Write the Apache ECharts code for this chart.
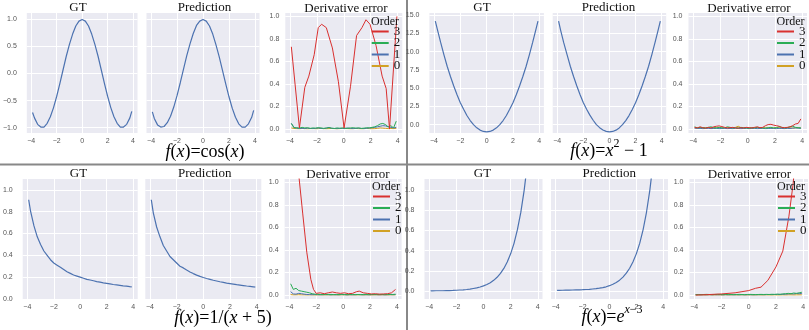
<!DOCTYPE html>
<html><head><meta charset="utf-8">
<script src="https://cdn.jsdelivr.net/npm/echarts@6/dist/echarts.min.js"></script>
<style>html,body{margin:0;padding:0;background:#fff}#c{width:809px;height:330px}</style>
</head><body><div id="c"></div><script>
// ---------- data ----------
const xTicks = [-4, -2, 0, 2, 4];
const cosTicks = [-1, -0.5, 0, 0.5, 1];
const sqTicks = [0, 2.5, 5, 7.5, 10, 12.5, 15];
const unitTicks = [0, 0.2, 0.4, 0.6, 0.8, 1.0];
const orders = ['3', '2', '1', '0'];
const subTitles = ['GT', 'Prediction', 'Derivative error'];

const xG = [-3.9,-3.75,-3.5,-3.25,-3,-2.75,-2.5,-2.25,-2,-1.75,-1.5,-1.25,-1,-0.75,-0.5,-0.25,0,0.25,0.5,0.75,1,1.25,1.5,1.75,2,2.25,2.5,2.75,3,3.25,3.5,3.75,3.9];
const xE = [-3.9,-3.7,-3.5,-3.3,-3.1,-2.9,-2.7,-2.5,-2.3,-2.1,-1.9,-1.7,-1.5,-1.3,-1.1,-0.9,-0.7,-0.5,-0.3,-0.1,0.1,0.3,0.5,0.7,0.9,1.1,1.3,1.5,1.7,1.9,2.1,2.3,2.5,2.7,2.9,3.1,3.3,3.5,3.7,3.9];

// cos(x)
const cosGT = [-0.72,-0.82,-0.94,-0.99,-0.99,-0.92,-0.80,-0.63,-0.42,-0.18,0.07,0.32,0.54,0.73,0.88,0.97,1.00,0.97,0.88,0.73,0.54,0.32,0.07,-0.18,-0.42,-0.63,-0.80,-0.92,-0.99,-0.99,-0.94,-0.82,-0.70];
const cosPred = [-0.71,-0.83,-0.95,-0.99,-0.98,-0.91,-0.79,-0.62,-0.41,-0.17,0.08,0.33,0.55,0.74,0.89,0.97,1.00,0.97,0.88,0.73,0.53,0.31,0.06,-0.19,-0.43,-0.64,-0.81,-0.93,-0.99,-0.99,-0.93,-0.81,-0.68];
const cosErr3X = [-3.9,-3.8,-3.3,-2.9,-2.6,-2.2,-1.9,-1.65,-1.3,-0.85,-0.4,0.02,0.5,0.95,1.35,1.65,1.95,2.4,2.85,3.15,3.4,3.95];
const cosErr3 = [0.73,0.72,0.01,0.37,0.47,0.66,0.90,0.93,0.90,0.72,0.42,0.01,0.38,0.83,0.90,0.97,0.93,0.74,0.47,0.36,0.0,1.0];
const cosErr2 = [0.05,0.010,0.012,0.008,0.015,0.010,0.012,0.006,0.010,0.008,0.012,0.010,0.006,0.009,0.012,0.008,0.005,0.010,0.007,0.010,0.008,0.006,0.010,0.012,0.008,0.010,0.006,0.008,0.012,0.010,0.015,0.020,0.030,0.045,0.050,0.040,0.020,0.030,0.010,0.070];
const cosErr1 = [0.050,0.015,0.008,0.005,0.006,0.004,0.008,0.005,0.004,0.006,0.010,0.005,0.004,0.008,0.015,0.006,0.005,0.004,0.006,0.005,0.004,0.010,0.005,0.004,0.006,0.008,0.005,0.004,0.006,0.010,0.012,0.015,0.020,0.025,0.030,0.028,0.020,0.015,0.010,0.015];
const cosErr0 = [0.010,0.005,0.004,0.003,0.005,0.004,0.003,0.004,0.005,0.003,0.004,0.006,0.004,0.003,0.004,0.005,0.004,0.003,0.004,0.006,0.005,0.004,0.003,0.004,0.005,0.004,0.003,0.004,0.005,0.004,0.003,0.004,0.006,0.010,0.008,0.006,0.004,0.005,0.004,0.006];

// x^2 - 1
const sqGT = [14.2,13.1,11.3,9.6,8.0,6.6,5.3,4.1,3.0,2.1,1.25,0.56,0.0,-0.44,-0.75,-0.94,-1.0,-0.94,-0.75,-0.44,0.0,0.56,1.25,2.1,3.0,4.1,5.3,6.6,8.0,9.6,11.3,13.1,14.2];
const sqPred = [14.2,13.0,11.2,9.6,8.0,6.6,5.3,4.1,3.0,2.1,1.3,0.6,0.0,-0.42,-0.74,-0.93,-0.99,-0.94,-0.76,-0.45,0.0,0.55,1.24,2.08,3.0,4.1,5.3,6.6,8.0,9.6,11.3,13.1,14.2];
const sqErr3 = [0.015,0.010,0.020,0.012,0.008,0.015,0.010,0.020,0.025,0.028,0.022,0.015,0.010,0.012,0.015,0.010,0.008,0.012,0.010,0.015,0.012,0.010,0.015,0.020,0.012,0.015,0.030,0.040,0.042,0.035,0.030,0.025,0.015,0.012,0.015,0.020,0.030,0.045,0.050,0.090];
const sqErr2 = [0.020,0.010,0.015,0.012,0.010,0.015,0.020,0.012,0.010,0.015,0.012,0.010,0.020,0.015,0.010,0.012,0.010,0.015,0.012,0.010,0.008,0.012,0.010,0.015,0.012,0.010,0.008,0.012,0.015,0.010,0.012,0.020,0.015,0.010,0.012,0.020,0.025,0.015,0.012,0.010];
const sqErr1 = [0.008,0.005,0.006,0.004,0.005,0.006,0.004,0.005,0.006,0.004,0.005,0.006,0.004,0.005,0.004,0.006,0.005,0.004,0.005,0.006,0.004,0.005,0.006,0.004,0.005,0.006,0.004,0.005,0.006,0.005,0.004,0.006,0.005,0.004,0.006,0.005,0.008,0.010,0.008,0.006];
const sqErr0 = [0.010,0.012,0.008,0.010,0.012,0.010,0.008,0.010,0.012,0.010,0.008,0.010,0.012,0.010,0.008,0.015,0.025,0.012,0.010,0.012,0.008,0.010,0.012,0.010,0.008,0.010,0.012,0.010,0.008,0.010,0.012,0.010,0.008,0.010,0.012,0.010,0.008,0.010,0.012,0.010];

// 1/(x+5)
const recGT = [0.91,0.80,0.67,0.57,0.50,0.44,0.40,0.36,0.33,0.31,0.29,0.27,0.25,0.235,0.22,0.21,0.20,0.19,0.18,0.174,0.167,0.16,0.154,0.148,0.143,0.138,0.133,0.129,0.125,0.121,0.118,0.114,0.112];
const recPred = [0.91,0.79,0.66,0.57,0.49,0.44,0.39,0.36,0.33,0.30,0.285,0.265,0.248,0.233,0.219,0.207,0.197,0.188,0.18,0.172,0.165,0.158,0.152,0.146,0.141,0.136,0.131,0.127,0.123,0.119,0.116,0.112,0.109];
const recErr3X = [-3.9,-3.6,-3.3,-3.0,-2.7,-2.4,-2.2,-2.0,-1.7,-1.4,-1.1,-0.8,-0.5,-0.2,0.1,0.4,0.7,1.0,1.2,1.5,1.8,2.1,2.4,2.7,3.0,3.3,3.6,3.9];
const recErr3 = [2.2,1.6,1.07,0.72,0.38,0.14,0.05,0.015,0.02,0.012,0.02,0.027,0.02,0.015,0.02,0.012,0.015,0.03,0.035,0.02,0.015,0.01,0.012,0.008,0.01,0.012,0.02,0.05];
const recErr2 = [0.100,0.050,0.060,0.040,0.035,0.030,0.025,0.020,0.012,0.008,0.006,0.005,0.006,0.004,0.005,0.006,0.004,0.005,0.004,0.006,0.005,0.004,0.005,0.006,0.004,0.005,0.004,0.005,0.006,0.004,0.005,0.004,0.005,0.006,0.005,0.004,0.005,0.006,0.005,0.008];
const recErr1 = [0.030,0.010,0.008,0.015,0.012,0.008,0.005,0.004,0.003,0.004,0.003,0.002,0.003,0.004,0.003,0.002,0.003,0.002,0.003,0.004,0.003,0.002,0.003,0.002,0.003,0.004,0.003,0.002,0.003,0.002,0.003,0.004,0.003,0.002,0.003,0.002,0.003,0.004,0.003,0.004];
const recErr0 = [0.004,0.002,0.002,0.003,0.002,0.002,0.001,0.002,0.002,0.001,0.002,0.002,0.001,0.002,0.002,0.001,0.002,0.002,0.001,0.002,0.002,0.001,0.002,0.002,0.001,0.002,0.002,0.001,0.002,0.002,0.001,0.002,0.002,0.001,0.002,0.002,0.001,0.002,0.002,0.002];

// e^(x-3)
const expGT = [0.001,0.001,0.002,0.002,0.002,0.003,0.004,0.005,0.007,0.009,0.011,0.014,0.018,0.024,0.030,0.039,0.050,0.064,0.082,0.105,0.135,0.174,0.223,0.287,0.368,0.472,0.607,0.779,1.0,1.28,1.65,2.12,2.46];
const expPred = [0.006,0.006,0.007,0.008,0.008,0.009,0.010,0.011,0.012,0.014,0.016,0.019,0.022,0.027,0.033,0.041,0.052,0.066,0.084,0.107,0.137,0.176,0.225,0.289,0.37,0.474,0.609,0.78,1.0,1.28,1.65,2.12,2.46];
const expErr3X = [-3.9,-3,-2,-1,-0.5,0,0.5,0.9,1.4,2.0,2.5,2.95,3.25,3.5];
const expErr3 = [0.0,0.004,0.01,0.02,0.03,0.04,0.06,0.07,0.13,0.25,0.39,0.70,0.98,1.3];
const expErr2 = [0.004,0.005,0.004,0.005,0.006,0.005,0.004,0.005,0.006,0.005,0.004,0.005,0.006,0.005,0.004,0.005,0.006,0.005,0.004,0.005,0.006,0.005,0.004,0.005,0.006,0.005,0.006,0.005,0.007,0.006,0.008,0.007,0.010,0.012,0.015,0.012,0.018,0.015,0.020,0.025];
const expErr1 = [0.002,0.003,0.002,0.003,0.002,0.003,0.002,0.003,0.002,0.003,0.002,0.003,0.002,0.003,0.002,0.003,0.002,0.003,0.002,0.003,0.003,0.002,0.003,0.003,0.004,0.003,0.004,0.005,0.004,0.005,0.006,0.005,0.007,0.008,0.010,0.012,0.010,0.014,0.012,0.015];
const expErr0 = [0.001,0.001,0.002,0.001,0.001,0.002,0.001,0.001,0.002,0.001,0.001,0.002,0.001,0.001,0.002,0.001,0.001,0.002,0.001,0.001,0.002,0.001,0.001,0.002,0.001,0.001,0.002,0.001,0.001,0.002,0.001,0.001,0.002,0.001,0.002,0.002,0.001,0.002,0.002,0.002];

// ---------- layout / style ----------
const BG = '#EAEAF2', CURVE = '#4C72B0';
const ORDER_COLORS = {'3': '#d9302f', '2': '#2aad55', '1': '#4c72b0', '0': '#d1a124'};
const panels = [
  {gt: cosGT, pred: cosPred, e3x: cosErr3X, e3: cosErr3, e2: cosErr2, e1: cosErr1, e0: cosErr0,
   yr: [-1.1, 1.12], yt: cosTicks, top: 13,
   cols: [[24.5, 113], [146.5, 113], [285.3, 117]], legend: [371.7, 25], order: [385, 22]},
  {gt: sqGT, pred: sqPred, e3x: xE, e3: sqErr3, e2: sqErr2, e1: sqErr1, e0: sqErr0,
   yr: [-1.15, 15.3], yt: sqTicks, top: 13,
   cols: [[429.4, 114.5], [552.7, 113.5], [688.5, 118.5]], legend: [777, 25], order: [790.5, 22]},
  {gt: recGT, pred: recPred, e3x: recErr3X, e3: recErr3, e2: recErr2, e1: recErr1, e0: recErr0,
   yr: [0, 1.1], yt: unitTicks, top: 179,
   cols: [[22.7, 115], [145.3, 116], [284.6, 117]], legend: [373, 190], order: [386, 187]},
  {gt: expGT, pred: expPred, e3x: expErr3X, e3: expErr3, e2: expErr2, e1: expErr1, e0: expErr0,
   yr: [-0.08, 1.11], yt: unitTicks, top: 179,
   cols: [[424.5, 118], [551, 117], [689.5, 118.5]], legend: [778, 190], order: [791, 187]}
];
const errRange = [-0.035, 1.03];
const H = 120;

const minus = v => (v < 0 ? '\u2212' : '') + Math.abs(v);
const fmtX = v => minus(v);
const fmtY = v => (v < -1e-9 ? '\u2212' : '') + Math.abs(v).toFixed(1);
const zip = (xs, ys) => xs.map((x, i) => [x, ys[i]]);

const grid = [], xAxis = [], yAxis = [], series = [], legend = [], graphic = [];
panels.forEach((p, pi) => {
  p.cols.forEach((c, ci) => {
    const gi = grid.length;
    grid.push({left: c[0], top: p.top, width: c[1], height: H, show: true,
      backgroundColor: BG, borderWidth: 0, containLabel: false});
    xAxis.push({type: 'value', gridIndex: gi, min: -4.35, max: 4.35,
      axisLine: {show: false}, axisTick: {show: false, customValues: xTicks},
      axisLabel: {customValues: xTicks, formatter: fmtX, fontSize: 7,
        fontFamily: 'Liberation Sans', color: '#555', margin: 5},
      splitLine: {show: true, lineStyle: {color: '#fff', width: 1}}});
    const isErr = ci === 2;
    const yr = isErr ? errRange : p.yr;
    const yt = isErr ? unitTicks : p.yt;
    yAxis.push({type: 'value', gridIndex: gi, min: yr[0], max: yr[1],
      axisLine: {show: false}, axisTick: {show: false, customValues: yt},
      axisLabel: {show: ci !== 1, customValues: yt, formatter: fmtY, fontSize: 7,
        fontFamily: 'Liberation Sans', color: '#555', margin: isErr ? 6 : 10},
      splitLine: {show: true, lineStyle: {color: '#fff', width: 1}}});
    if (!isErr) {
      series.push({type: 'line', name: ci === 0 ? 'GT' : 'Prediction', xAxisIndex: gi, yAxisIndex: gi,
        data: zip(xG, ci === 0 ? p.gt : p.pred), symbol: 'none', clip: true,
        lineStyle: {color: CURVE, width: 1.2}, itemStyle: {color: CURVE}, silent: true});
    } else {
      const sets = [['0', xE, p.e0], ['1', xE, p.e1], ['2', xE, p.e2], ['3', p.e3x, p.e3]];
      sets.forEach(s => {
        series.push({type: 'line', name: s[0], xAxisIndex: gi, yAxisIndex: gi,
          data: zip(s[1], s[2]), symbol: 'none', clip: true,
          lineStyle: {color: ORDER_COLORS[s[0]], width: 1}, itemStyle: {color: ORDER_COLORS[s[0]]}, silent: true});
      });
    }
  });
  legend.push({data: orders, orient: 'vertical', left: p.legend[0], top: p.legend[1],
    icon: 'rect', itemWidth: 17, itemHeight: 2, itemGap: -1.5, padding: 0, selectedMode: false, z: 10,
    textStyle: {fontFamily: 'Liberation Serif', fontSize: 13, color: '#111', lineHeight: 11.5}});
  graphic.push({type: 'text', x: p.order[0], y: p.order[1], silent: true, z: 100,
    style: {text: 'Order', font: '12px "Liberation Serif"', fill: '#111',
      align: 'center', verticalAlign: 'middle', textAlign: 'center', textVerticalAlign: 'middle'}});
});

// subplot titles
const titlePos = [
  [[78, 8], [204.5, 8], [346, 9]],
  [[482, 8], [608.5, 8], [749, 9]],
  [[78.5, 174], [204.7, 174], [348, 175]],
  [[482.5, 174], [609.3, 174], [749.5, 175]]
];
titlePos.forEach(row => row.forEach((t, i) => {
  graphic.push({type: 'text', x: t[0], y: t[1], silent: true,
    style: {text: subTitles[i], font: '13px "Liberation Serif"', fill: '#111',
      align: 'center', verticalAlign: 'middle', textAlign: 'center', textVerticalAlign: 'middle'}});
}));

// formula captions
const FF = '"Liberation Serif"';
const rich = {
  i: {fontFamily: FF, fontStyle: 'italic', fontSize: 18, lineHeight: 26, verticalAlign: 'middle', fill: '#000'},
  n: {fontFamily: FF, fontSize: 18, lineHeight: 26, verticalAlign: 'middle', fill: '#000'},
  s: {fontFamily: FF, fontSize: 12, lineHeight: 12, verticalAlign: 'top', fill: '#000'},
  si: {fontFamily: FF, fontStyle: 'italic', fontSize: 12, lineHeight: 12, verticalAlign: 'top', fill: '#000'}
};
const captions = [
  ['{i|f}{n|(}{i|x}{n|)=cos(}{i|x}{n|)}', 205, 152],
  ['{i|f}{n|(}{i|x}{n|)=}{i|x}{s|2}{n| \u2212 1}', 609, 151],
  ['{i|f}{n|(}{i|x}{n|)=1/(}{i|x}{n| + 5)}', 223, 318],
  ['{i|f}{n|(}{i|x}{n|)=}{i|e}{si|x}{s|\u22123}', 612, 317]
];
captions.forEach(c => {
  graphic.push({type: 'text', x: c[1], y: c[2], silent: true,
    style: {text: c[0], rich: rich, align: 'center', verticalAlign: 'middle',
      textAlign: 'center', textVerticalAlign: 'middle'}});
});

// panel separators
graphic.push({type: 'line', silent: true, shape: {x1: 407, y1: 0, x2: 407, y2: 330},
  style: {stroke: '#888', lineWidth: 2}});
graphic.push({type: 'line', silent: true, shape: {x1: 0, y1: 164.5, x2: 809, y2: 164.5},
  style: {stroke: '#888', lineWidth: 2}});

const chart = echarts.init(document.getElementById('c'), null, {renderer: 'canvas'});
chart.setOption({animation: false, grid, xAxis, yAxis, series, legend, graphic});
</script></body></html>
